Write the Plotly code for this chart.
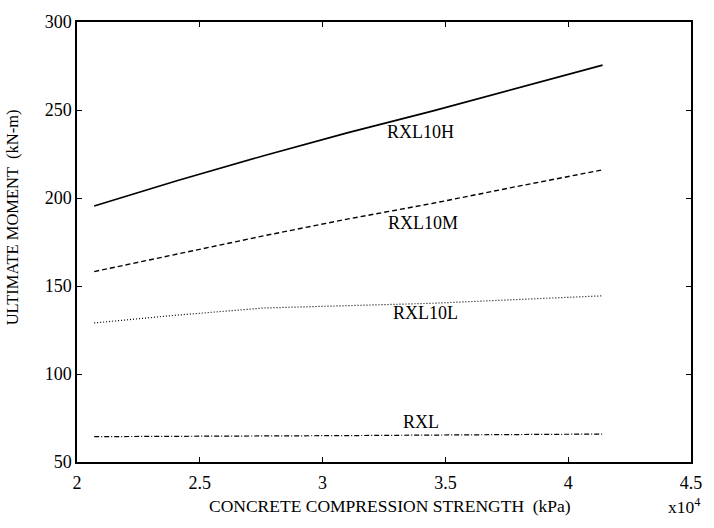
import plotly.graph_objects as go

strength = [2.07, 2.41, 2.76, 3.10, 3.45, 3.79, 4.14]  # x10^4 kPa
rxl10h = [195.5, 210.0, 224.0, 237.0, 249.5, 262.5, 275.5]
rxl10m = [158.2, 168.3, 178.5, 188.0, 197.0, 206.5, 216.0]
rxl10l = [129.0, 133.5, 137.5, 138.7, 140.2, 142.3, 144.4]
rxl = [64.4, 64.5, 64.7, 65.0, 65.3, 65.6, 65.9]

series_names = ["RXL10H", "RXL10M", "RXL10L", "RXL"]
label_x = [3.40, 3.41, 3.42, 3.40]
label_y = [237.5, 186.0, 134.5, 73.0]

x_ticks = [2, 2.5, 3, 3.5, 4, 4.5]
x_tick_text = ["2", "2.5", "3", "3.5", "4", "4.5"]
y_ticks = [50, 100, 150, 200, 250, 300]

x_title = "CONCRETE COMPRESSION STRENGTH  (kPa)"
y_title = "ULTIMATE MOMENT  (kN-m)"
x_multiplier = "x10<sup>4</sup>"

font_family = "Liberation Serif"

fig = go.Figure()
styles = [
    dict(color="black", width=1.6, dash="solid"),
    dict(color="black", width=1.4, dash="5px,3px"),
    dict(color="black", width=1.2, dash="1px,2px"),
    dict(color="black", width=1.2, dash="5px,2px,1px,2px"),
]
for name, ys, st in zip(series_names, [rxl10h, rxl10m, rxl10l, rxl], styles):
    fig.add_trace(go.Scatter(x=strength, y=ys, mode="lines", name=name,
                             line=st, showlegend=False))

for name, lx, ly in zip(series_names, label_x, label_y):
    fig.add_annotation(x=lx, y=ly, text=name, showarrow=False,
                       font=dict(family=font_family, size=18, color="black"),
                       xanchor="center", yanchor="middle")

fig.add_annotation(xref="paper", yref="paper", x=0.509, y=-0.10,
                   text=x_title, showarrow=False,
                   xanchor="center", yanchor="middle",
                   font=dict(family=font_family, size=17.5, color="black"))
fig.add_annotation(xref="paper", yref="paper", x=1.018, y=-0.10,
                   text=x_multiplier, showarrow=False,
                   xanchor="right", yanchor="middle",
                   font=dict(family=font_family, size=17.5, color="black"))
fig.add_annotation(xref="paper", yref="paper", x=-0.105, y=0.555,
                   text=y_title, showarrow=False, textangle=-90,
                   xanchor="center", yanchor="middle",
                   font=dict(family=font_family, size=16.5, color="black"))

axis_common = dict(showline=True, linecolor="black", linewidth=1.5,
                   mirror="ticks", ticks="inside", ticklen=5,
                   tickcolor="black", tickwidth=1, showgrid=False,
                   zeroline=False,
                   tickfont=dict(family=font_family, size=18, color="black"))

fig.update_layout(
    width=714, height=528,
    margin=dict(l=77, r=14, t=15, b=66),
    paper_bgcolor="white", plot_bgcolor="white",
    font=dict(family=font_family, color="black"),
    xaxis=dict(range=[2, 4.5], tickvals=x_ticks, ticktext=x_tick_text,
               ticklabelstandoff=4, **axis_common),
    yaxis=dict(range=[50, 300], tickvals=y_ticks, **axis_common),
)

fig.write_html("out.html")
